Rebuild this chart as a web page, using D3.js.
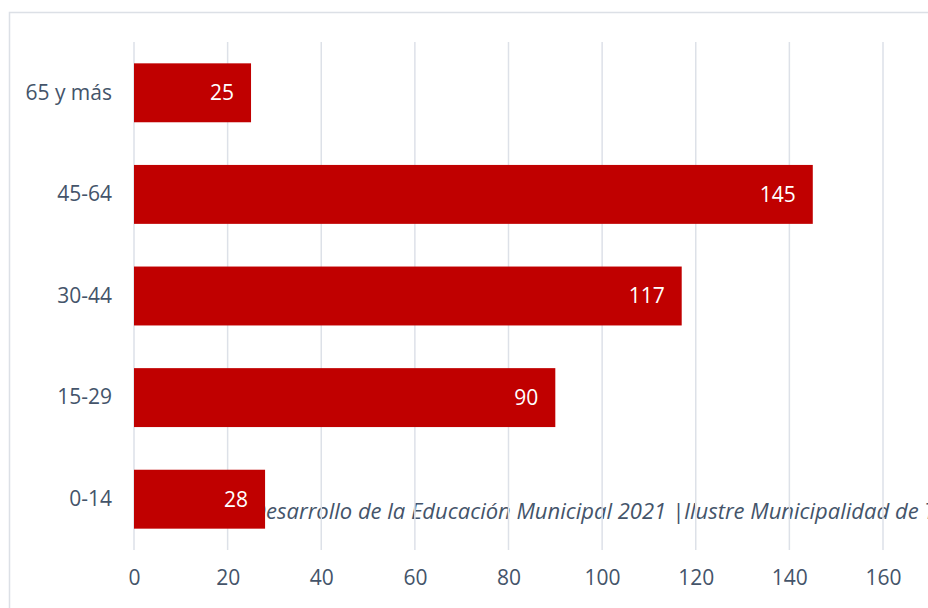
<!DOCTYPE html>
<html>
<head>
<meta charset="utf-8">
<script src="https://cdn.jsdelivr.net/npm/d3@7"></script>
<style>
  html, body { margin: 0; padding: 0; background: #ffffff; overflow: hidden; }
  svg { display: block; }
</style>
</head>
<body>
<div id="chart"></div>
<script>
// data
const categories = ["65 y más", "45-64", "30-44", "15-29", "0-14"];
const values = [25, 145, 117, 90, 28];
const xTicks = [0, 20, 40, 60, 80, 100, 120, 140, 160];
const footerText = "Desarrollo de la Educación Municipal 2021 |Ilustre Municipalidad de Tomé";

const W = 928, H = 608;
const margin = {top: 42, left: 134};
const font = "'Open Sans', 'DejaVu Sans', sans-serif";
const textColor = "#44546A";

let svg = d3.select("#chart")
    .append("svg")
    .attr("width", W)
    .attr("height", H);

// chart frame (runs past the window on right and bottom)
svg.append("rect")
    .attr("x", 9.5)
    .attr("y", 12.5)
    .attr("width", W + 40)
    .attr("height", H + 40)
    .attr("fill", "#ffffff")
    .attr("stroke", "#DCE0E6")
    .attr("stroke-width", 1.5);

let g = svg.append("g")
    .attr("transform", `translate(${margin.left}, ${margin.top})`);

let plotH = 508;

let x = d3.scaleLinear()
    .domain([0, 160])
    .range([0, 749]);

let y = d3.scaleBand()
    .domain(categories)
    .range([0, plotH])
    .paddingInner(0.42)
    .paddingOuter(0.21);

// footer text sits under the grid and the bars, its first letter hidden by the last bar
g.append("text")
    .attr("class", "footer")
    .attr("y", y("0-14") + y.bandwidth() / 2 + 20)
    .attr("font-family", font)
    .attr("font-style", "italic")
    .attr("font-size", 22)
    .attr("fill", textColor)
    .text(footerText)
    .each(function () {
        let pre = this.getSubStringLength(0, 1);
        d3.select(this).attr("x", x(28) + 1 - pre);
    });

// vertical grid
g.selectAll(".grid")
    .data(xTicks)
    .enter()
    .append("line")
    .attr("class", "grid")
    .attr("x1", d => x(d))
    .attr("x2", d => x(d))
    .attr("y1", 0)
    .attr("y2", plotH)
    .attr("stroke", "#DDE1E8")
    .attr("stroke-width", 1.5);

// bars
g.selectAll(".bar")
    .data(values)
    .enter()
    .append("rect")
    .attr("class", "bar")
    .attr("x", x(0))
    .attr("y", (d, i) => y(categories[i]))
    .attr("width", d => x(d) - x(0))
    .attr("height", y.bandwidth())
    .attr("fill", "#C00000");

// value labels
g.selectAll(".valuelabel")
    .data(values)
    .enter()
    .append("text")
    .attr("class", "valuelabel")
    .attr("x", d => x(d) - 17)
    .attr("y", (d, i) => y(categories[i]) + y.bandwidth() / 2)
    .attr("dy", "0.35em")
    .attr("text-anchor", "end")
    .attr("font-family", font)
    .attr("font-size", 21)
    .attr("fill", "#ffffff")
    .text(d => d);

// y axis labels
let yAxis = d3.axisLeft(y).tickSize(0).tickPadding(22);
g.append("g")
    .call(yAxis)
    .call(a => a.select(".domain").remove())
    .selectAll("text")
    .attr("font-family", font)
    .attr("font-size", 21)
    .attr("fill", textColor);

// x axis labels
let xAxis = d3.axisBottom(x).tickValues(xTicks).tickSize(0).tickPadding(20);
g.append("g")
    .attr("transform", `translate(0, ${plotH})`)
    .call(xAxis)
    .call(a => a.select(".domain").remove())
    .selectAll("text")
    .attr("font-family", font)
    .attr("font-size", 21)
    .attr("fill", textColor);
</script>
</body>
</html>
